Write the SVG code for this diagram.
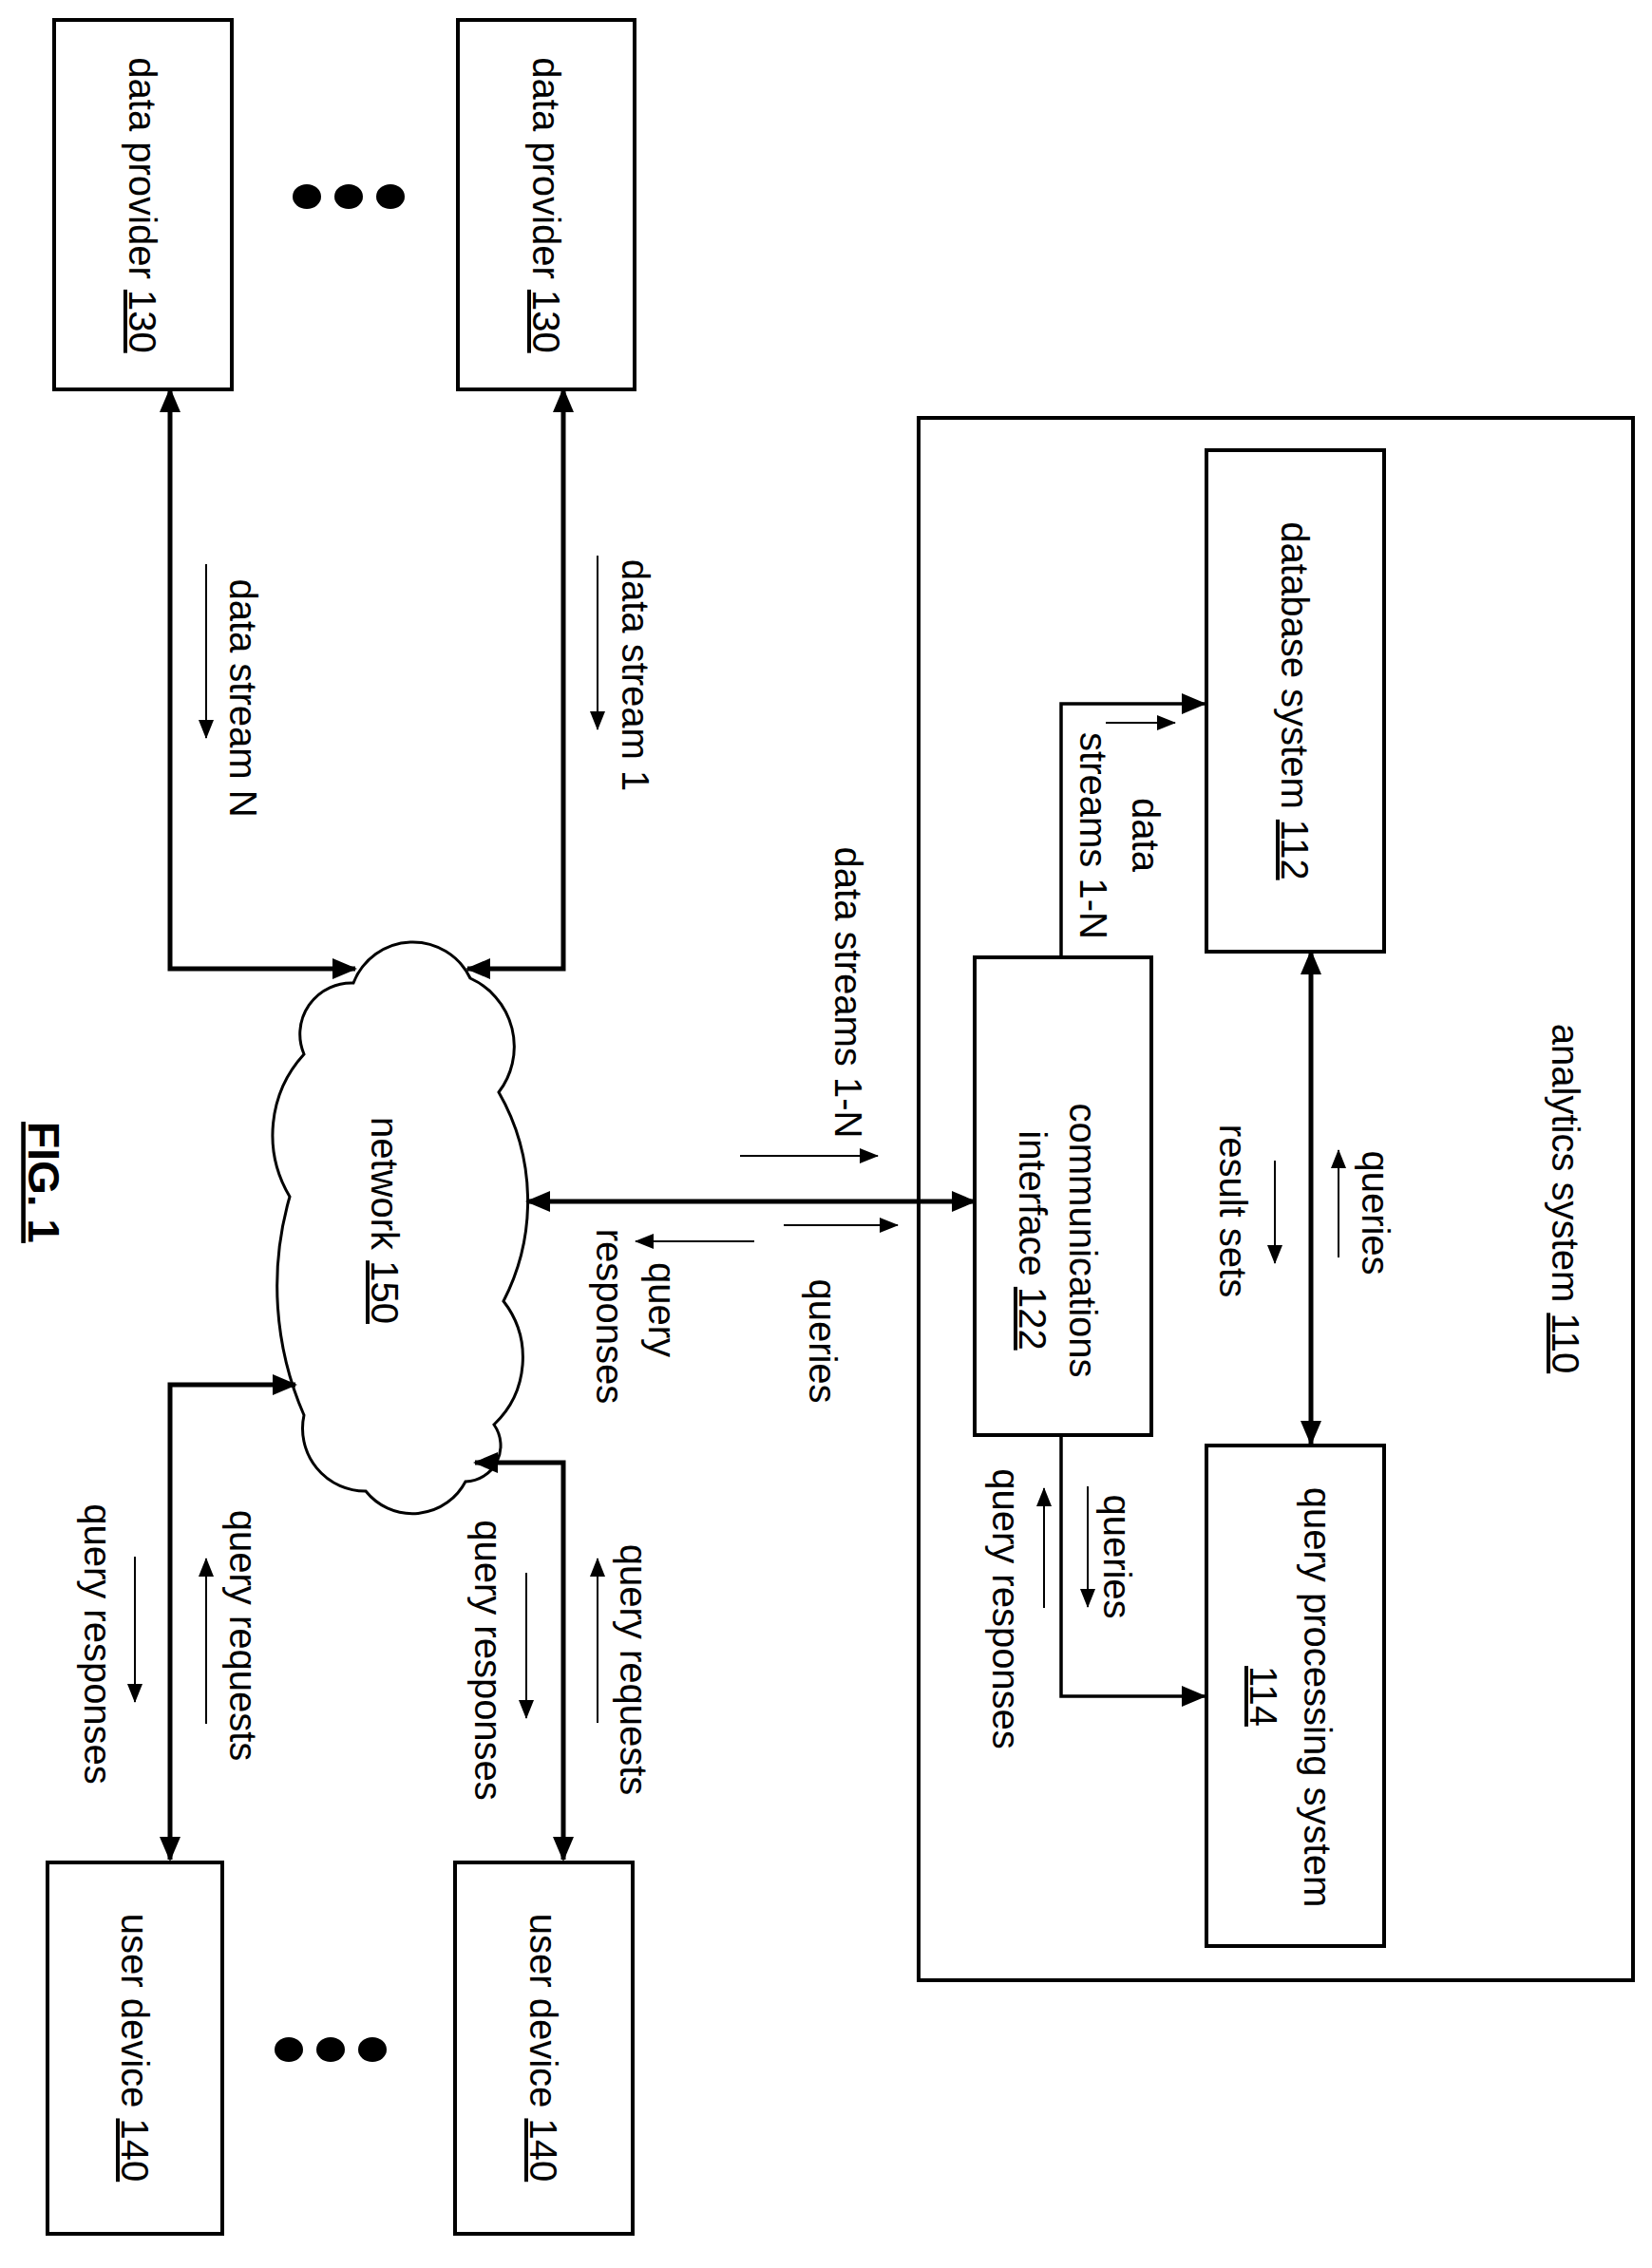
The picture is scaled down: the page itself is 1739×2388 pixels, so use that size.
<svg xmlns="http://www.w3.org/2000/svg" width="1739" height="2388" viewBox="0 0 1739 2388">
<style>
.box{fill:#fff;stroke:#000;stroke-width:4}
.t{font-family:"Liberation Sans",Arial,sans-serif;font-size:40px;fill:#000;text-anchor:middle}
.u{text-decoration:underline}
.thick{fill:none;stroke:#000;stroke-width:5}
.mid{fill:none;stroke:#000;stroke-width:3.5}
.thin{fill:none;stroke:#000;stroke-width:2}
</style>
<defs>
<marker id="ah" markerUnits="userSpaceOnUse" markerWidth="26" markerHeight="22" refX="24" refY="11" orient="auto-start-reverse"><path d="M0,0 L26,11 L0,22 z" fill="#000"/></marker>
<marker id="as" markerUnits="userSpaceOnUse" markerWidth="20" markerHeight="16" refX="19" refY="8" orient="auto"><path d="M0,0 L20,8 L0,16 z" fill="#000"/></marker>
</defs>
<rect width="1739" height="2388" fill="#fff"/>
<g id="analytics">
<rect class="box" x="967" y="440" width="752" height="1645"/>
<text class="t" transform="translate(1648,1262) rotate(90)" dy="0.35em">analytics system <tspan class="u">110</tspan></text>
</g>
<g id="dp1"><rect class="box" x="57" y="21" width="187" height="389"/>
<text class="t" transform="translate(150,216) rotate(90)" dy="0.35em">data provider <tspan class="u">130</tspan></text></g>
<g id="dp2"><rect class="box" x="482" y="21" width="186" height="389"/>
<text class="t" transform="translate(575,216) rotate(90)" dy="0.35em">data provider <tspan class="u">130</tspan></text></g>
<g id="dots1"><ellipse cx="323" cy="207" rx="15" ry="13"/><ellipse cx="367" cy="207" rx="15" ry="13"/><ellipse cx="411" cy="207" rx="15" ry="13"/></g>
<g id="ud1"><rect class="box" x="50" y="1961" width="184" height="391"/>
<text class="t" transform="translate(142,2156) rotate(90)" dy="0.35em">user device <tspan class="u">140</tspan></text></g>
<g id="ud2"><rect class="box" x="479" y="1961" width="187" height="391"/>
<text class="t" transform="translate(572,2156) rotate(90)" dy="0.35em">user device <tspan class="u">140</tspan></text></g>
<g id="dots2"><ellipse cx="304" cy="2158" rx="15" ry="13"/><ellipse cx="348" cy="2158" rx="15" ry="13"/><ellipse cx="392" cy="2158" rx="15" ry="13"/></g>
<g id="network">
<path fill="#fff" stroke="#000" stroke-width="3" d="M372,1035 A67,67 0 0 1 495,1030 A79,79 0 0 1 525,1150 A230,230 0 0 1 530,1370 A97,97 0 0 1 520,1500 A38,38 0 0 1 490,1560 A63,63 0 0 1 385,1570 A66,66 0 0 1 320,1490 A340,340 0 0 1 305,1260 A126,126 0 0 1 320,1110 A54,54 0 0 1 372,1035 Z"/>
<text class="t" transform="translate(405,1285) rotate(90)" dy="0.35em">network <tspan class="u">150</tspan></text>
</g>
<g id="db"><rect class="box" x="1270" y="474" width="187" height="528"/>
<text class="t" transform="translate(1363,738) rotate(90)" dy="0.35em">database system <tspan class="u">112</tspan></text></g>
<g id="qp"><rect class="box" x="1270" y="1522" width="187" height="527"/>
<text class="t" transform="translate(1387,1787) rotate(90)" dy="0.35em">query processing system</text>
<text class="t" transform="translate(1330,1786) rotate(90)" dy="0.35em"><tspan class="u">114</tspan></text></g>
<g id="comm"><rect class="box" x="1026" y="1008" width="186" height="503"/>
<text class="t" transform="translate(1140,1306) rotate(90)" dy="0.35em">communications</text>
<text class="t" transform="translate(1087,1306) rotate(90)" dy="0.35em">interface <tspan class="u">122</tspan></text></g>
<g id="fig"><text transform="translate(46,1245) rotate(90)" dy="0.35em" style="font-family:'Liberation Sans',Arial,sans-serif;font-size:46px;font-weight:bold;text-anchor:middle;text-decoration:underline">FIG. 1</text></g>
<g id="connectors">
<path class="thick" d="M179,410 V1020 H374" marker-start="url(#ah)" marker-end="url(#ah)"/>
<path class="thick" d="M593,410 V1020 H492" marker-start="url(#ah)" marker-end="url(#ah)"/>
<path class="thick" d="M555,1265 H1026" marker-start="url(#ah)" marker-end="url(#ah)"/>
<path class="thick" d="M311,1458 H179 V1958" marker-start="url(#ah)" marker-end="url(#ah)"/>
<path class="thick" d="M500,1540 H593 V1958" marker-start="url(#ah)" marker-end="url(#ah)"/>
<path class="mid" d="M1117,1008 V741 H1268" marker-end="url(#ah)"/>
<path class="mid" d="M1117,1511 V1786 H1268" marker-end="url(#ah)"/>
<path class="thick" d="M1380,1002 V1520" marker-start="url(#ah)" marker-end="url(#ah)"/>
<path class="thin" d="M217,594 V777" marker-end="url(#as)"/>
<path class="thin" d="M629,585 V768" marker-end="url(#as)"/>
<path class="thin" d="M1164,761 H1237" marker-end="url(#as)"/>
<path class="thin" d="M779,1217 H924" marker-end="url(#as)"/>
<path class="thin" d="M825,1290 H945" marker-end="url(#as)"/>
<path class="thin" d="M794,1307 H669" marker-end="url(#as)"/>
<path class="thin" d="M1409,1324 V1211" marker-end="url(#as)"/>
<path class="thin" d="M1342,1222 V1330" marker-end="url(#as)"/>
<path class="thin" d="M1145,1565 V1692" marker-end="url(#as)"/>
<path class="thin" d="M1099,1693 V1567" marker-end="url(#as)"/>
<path class="thin" d="M142,1639 V1792" marker-end="url(#as)"/>
<path class="thin" d="M217,1815 V1641" marker-end="url(#as)"/>
<path class="thin" d="M554,1656 V1809" marker-end="url(#as)"/>
<path class="thin" d="M629,1814 V1641" marker-end="url(#as)"/>
</g>
<g id="labels">
<text class="t" transform="translate(256,735) rotate(90)" dy="0.35em">data stream N</text>
<text class="t" transform="translate(669,711) rotate(90)" dy="0.35em">data stream 1</text>
<text class="t" transform="translate(1206,879) rotate(90)" dy="0.35em">data</text>
<text class="t" transform="translate(1151,880) rotate(90)" dy="0.35em">streams 1-N</text>
<text class="t" transform="translate(893,1045) rotate(90)" dy="0.35em">data streams 1-N</text>
<text class="t" transform="translate(866,1412) rotate(90)" dy="0.35em">queries</text>
<text class="t" transform="translate(697,1379) rotate(90)" dy="0.35em">query</text>
<text class="t" transform="translate(642,1386) rotate(90)" dy="0.35em">responses</text>
<text class="t" transform="translate(1448,1277) rotate(90)" dy="0.35em">queries</text>
<text class="t" transform="translate(1298,1275) rotate(90)" dy="0.35em">result sets</text>
<text class="t" transform="translate(1176,1639) rotate(90)" dy="0.35em">queries</text>
<text class="t" transform="translate(1059,1694) rotate(90)" dy="0.35em">query responses</text>
<text class="t" transform="translate(103,1731) rotate(90)" dy="0.35em">query responses</text>
<text class="t" transform="translate(256,1722) rotate(90)" dy="0.35em">query requests</text>
<text class="t" transform="translate(514,1748) rotate(90)" dy="0.35em">query responses</text>
<text class="t" transform="translate(667,1758) rotate(90)" dy="0.35em">query requests</text>
</g>
</svg>
